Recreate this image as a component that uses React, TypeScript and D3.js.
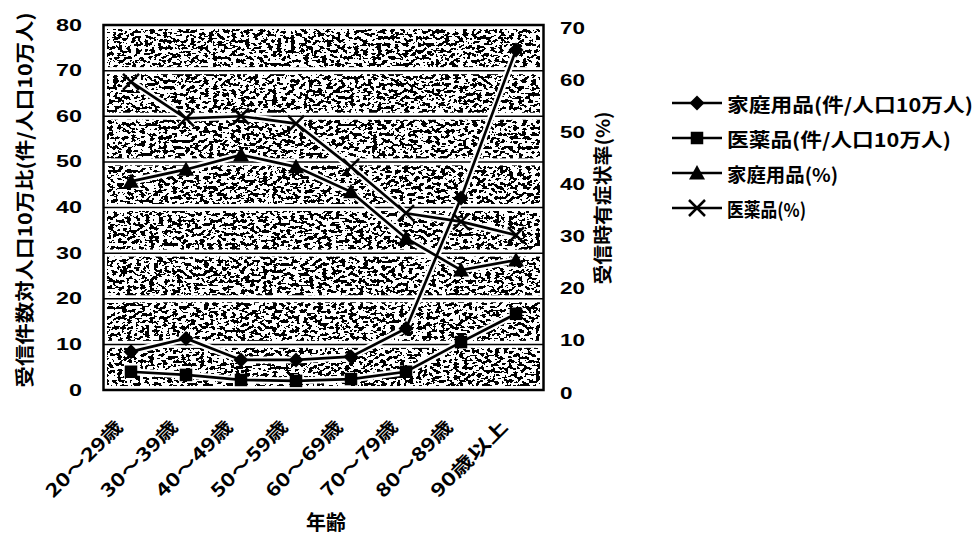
import * as React from "react";
import * as d3 from "d3";

const categories = ["20～29歳", "30～39歳", "40～49歳", "50～59歳", "60～69歳", "70～79歳", "80～89歳", "90歳以上"];
// left axis: 件/人口10万人
const householdRate = [8.4, 11.3, 6.6, 6.6, 7.3, 13.5, 42.1, 74.5];
const medicineRate = [4.0, 3.3, 2.2, 2.0, 2.4, 4.0, 10.5, 16.7];
// right axis: %
const householdPct = [40.0, 42.3, 45.1, 42.8, 38.0, 29.1, 23.0, 24.9];
const medicinePct = [59.1, 52.1, 52.5, 51.1, 42.8, 33.9, 32.3, 29.7];

const leftTicks = [0, 10, 20, 30, 40, 50, 60, 70, 80];
const rightTicks = [0, 10, 20, 30, 40, 50, 60, 70];

const legendLabels = ["家庭用品(件/人口10万人)", "医薬品(件/人口10万人)", "家庭用品(%)", "医薬品(%)"];
const legendWidths = [246, 224, 111, 79];

const W = 977;
const H = 537;
const PLOT = { left: 103.5, right: 543.5, top: 25, bottom: 390 };

const JP = "'Noto Sans CJK JP', 'Noto Sans', sans-serif";
const NUM = "'Liberation Sans', Arial, sans-serif";

type Shape = "diamond" | "square" | "triangle" | "cross";

function Marker({ shape, x, y }: { shape: Shape; x: number; y: number }) {
  if (shape === "diamond") {
    const r = 7.5;
    return <path d={`M${x},${y - r}L${x + r},${y}L${x},${y + r}L${x - r},${y}Z`} fill="#000" />;
  }
  if (shape === "square") {
    const s = 12.5;
    return <rect x={x - s / 2} y={y - s / 2} width={s} height={s} fill="#000" />;
  }
  if (shape === "triangle") {
    const r = 8;
    return <path d={`M${x},${y - r}L${x + r},${y + r * 0.8}L${x - r},${y + r * 0.8}Z`} fill="#000" />;
  }
  const r = 8;
  return (
    <path
      d={`M${x - r},${y - r}L${x + r},${y + r}M${x + r},${y - r}L${x - r},${y + r}`}
      stroke="#000"
      strokeWidth={2.5}
      fill="none"
    />
  );
}

export default function App() {
  const x = d3.scaleBand<string>().domain(categories).range([PLOT.left, PLOT.right]);
  const cx = (c: string) => (x(c) ?? 0) + x.bandwidth() / 2;
  const yL = d3.scaleLinear().domain([0, 80]).range([PLOT.bottom, PLOT.top]);
  const yR = d3.scaleLinear().domain([0, 70]).range([PLOT.bottom, PLOT.top]);

  const series: { values: number[]; scale: d3.ScaleLinear<number, number>; shape: Shape }[] = [
    { values: householdRate, scale: yL, shape: "diamond" },
    { values: medicineRate, scale: yL, shape: "square" },
    { values: householdPct, scale: yR, shape: "triangle" },
    { values: medicinePct, scale: yR, shape: "cross" },
  ];

  const line = (vals: number[], s: d3.ScaleLinear<number, number>) =>
    d3
      .line<number>()
      .x((_, i) => cx(categories[i]))
      .y((v) => s(v))(vals) ?? "";

  const pw = PLOT.right - PLOT.left;
  const ph = PLOT.bottom - PLOT.top;

  return (
    <svg width={W} height={H} style={{ position: "absolute", left: 0, top: 0, background: "#fff" }}>
      <defs>
        <filter id="speckle" x="0" y="0" width="1" height="1" colorInterpolationFilters="sRGB">
          <feTurbulence type="fractalNoise" baseFrequency="0.22 0.3" numOctaves={2} seed={11} />
          <feColorMatrix type="matrix" values="0 0 0 0 0  0 0 0 0 0  0 0 0 0 0  -2.4 0 0 0 1.63" />
          <feComponentTransfer>
            <feFuncA type="discrete" tableValues="0 1" />
          </feComponentTransfer>
        </filter>
      </defs>

      {/* plot background texture */}
      <rect x={PLOT.left} y={PLOT.top} width={pw} height={ph} fill="#fff" />
      <rect x={PLOT.left + 4} y={PLOT.top + 4} width={pw - 8} height={ph - 8} fill="#000" filter="url(#speckle)" />

      {/* gridlines: white gap with thin black rule */}
      {leftTicks.slice(1, -1).map((t) => (
        <g key={`g-${t}`}>
          <rect x={PLOT.left} y={yL(t) - 3.5} width={pw} height={7} fill="#fff" />
          <line x1={PLOT.left} x2={PLOT.right} y1={yL(t)} y2={yL(t)} stroke="#000" strokeWidth={1.5} />
        </g>
      ))}

      {/* frame */}
      <rect x={PLOT.left} y={PLOT.top} width={pw} height={ph} fill="none" stroke="#000" strokeWidth={2.5} />

      {/* white halo under series so they stand out from the texture */}
      {series.map((s, si) => (
        <path key={`h-${si}`} d={line(s.values, s.scale)} fill="none" stroke="#fff" strokeWidth={7} strokeLinejoin="round" />
      ))}

      {/* series */}
      {series.map((s, si) => (
        <g key={`s-${si}`}>
          <path d={line(s.values, s.scale)} fill="none" stroke="#000" strokeWidth={2.7} />
          {s.values.map((v, i) => (
            <Marker key={i} shape={s.shape} x={cx(categories[i])} y={s.scale(v)} />
          ))}
        </g>
      ))}

      {/* left axis labels */}
      {leftTicks.map((t) => (
        <text
          key={`l-${t}`}
          x={82}
          y={yL(t)}
          textAnchor="end"
          dominantBaseline="central"
          fontFamily={NUM}
          fontWeight={700}
          fontSize={17}
          textLength={String(t).length * 13}
          lengthAdjust="spacingAndGlyphs"
        >
          {t}
        </text>
      ))}

      {/* right axis labels */}
      {rightTicks.map((t) => (
        <text
          key={`r-${t}`}
          x={560}
          y={yR(t) + 3}
          textAnchor="start"
          dominantBaseline="central"
          fontFamily={NUM}
          fontWeight={700}
          fontSize={17}
          textLength={String(t).length * 12.5}
          lengthAdjust="spacingAndGlyphs"
        >
          {t}
        </text>
      ))}

      {/* x labels */}
      {categories.map((c) => (
        <text
          key={`x-${c}`}
          transform={`translate(${cx(c) - 7},${428}) rotate(-45)`}
          textAnchor="end"
          fontFamily={JP}
          fontWeight={700}
          fontSize={18}
          textLength={100}
          lengthAdjust="spacingAndGlyphs"
        >
          {c}
        </text>
      ))}

      {/* axis titles */}
      <text
        transform={`translate(23,200) rotate(-90)`}
        textAnchor="middle"
        dominantBaseline="central"
        fontFamily={JP}
        fontWeight={700}
        fontSize={19}
        textLength={375}
        lengthAdjust="spacingAndGlyphs"
      >
        受信件数対人口10万比(件/人口10万人)
      </text>
      <text
        transform={`translate(601,198) rotate(-90)`}
        textAnchor="middle"
        dominantBaseline="central"
        fontFamily={JP}
        fontWeight={700}
        fontSize={19}
        textLength={173}
        lengthAdjust="spacingAndGlyphs"
      >
        受信時有症状率(%)
      </text>
      <text x={326} y={521} textAnchor="middle" dominantBaseline="central" fontFamily={JP} fontWeight={700} fontSize={20}>
        年齢
      </text>

      {/* legend */}
      {series.map((s, i) => {
        const ly = 103 + i * 35;
        return (
          <g key={`lg-${i}`}>
            <line x1={672} x2={722} y1={ly} y2={ly} stroke="#000" strokeWidth={2.7} />
            <Marker shape={s.shape} x={697} y={ly} />
            <text
              x={727}
              y={ly}
              dominantBaseline="central"
              fontFamily={JP}
              fontWeight={700}
              fontSize={19}
              textLength={legendWidths[i]}
              lengthAdjust="spacingAndGlyphs"
            >
              {legendLabels[i]}
            </text>
          </g>
        );
      })}
    </svg>
  );
}
